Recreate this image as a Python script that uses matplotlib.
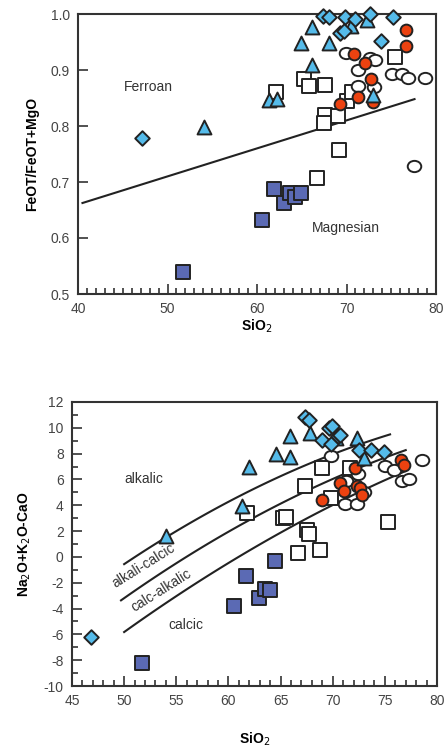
import numpy as np
import matplotlib
matplotlib.use("Agg")
import matplotlib.pyplot as plt
from matplotlib.path import Path
from matplotlib.markers import MarkerStyle
from matplotlib.ticker import MultipleLocator

plt.rcParams['font.family'] = ['Liberation Sans', 'DejaVu Sans']
plt.rcParams['axes.unicode_minus'] = False

# ---------------- Top plot data: SiO2 vs FeOT/(FeOT+MgO) ----------------
top_diamond_x = [47.1, 67.4, 68.0, 69.8, 70.9, 72.6, 75.2, 69.3, 69.7, 73.9]
top_diamond_y = [0.779, 0.996, 0.994, 0.995, 0.991, 1.000, 0.994, 0.966, 0.970, 0.951]

top_triangle_x = [54.1, 61.3, 62.2, 64.9, 66.1, 66.1, 68.1, 70.5, 72.3, 73.0]
top_triangle_y = [0.799, 0.846, 0.848, 0.948, 0.909, 0.976, 0.948, 0.979, 0.990, 0.855]

top_opensq_x = [62.1, 65.25, 65.8, 67.55, 67.6, 67.5, 69.0, 69.2, 66.7, 70.0, 70.6, 75.4]
top_opensq_y = [0.861, 0.884, 0.872, 0.873, 0.820, 0.806, 0.817, 0.758, 0.708, 0.845, 0.861, 0.924]

top_darksq_x = [51.7, 60.6, 61.9, 63.0, 63.7, 64.2, 64.9]
top_darksq_y = [0.540, 0.633, 0.687, 0.663, 0.681, 0.673, 0.680]

top_opencirc_x = [69.9, 71.3, 72.6, 73.2, 71.3, 73.1, 75.1, 76.2, 76.9, 78.8, 77.5]
top_opencirc_y = [0.930, 0.900, 0.921, 0.918, 0.871, 0.870, 0.893, 0.893, 0.885, 0.885, 0.729]

top_redcirc_x = [76.65, 76.65, 70.84, 72.07, 72.7, 71.25, 69.27, 73.0]
top_redcirc_y = [0.971, 0.943, 0.928, 0.912, 0.884, 0.851, 0.839, 0.843]

ferroan_line_x = [40.5, 77.6]
ferroan_line_y = [0.6625, 0.848]

# ---------------- Bottom plot data: SiO2 vs Na2O+K2O-CaO ----------------
bot_diamond_x = [46.8, 67.3, 67.7, 69.6, 69.9, 69.0, 69.8, 70.5, 70.7, 72.5, 73.7, 74.9]
bot_diamond_y = [-6.23, 10.84, 10.57, 9.98, 10.16, 9.08, 8.77, 9.33, 9.46, 8.25, 8.30, 8.10]

bot_triangle_x = [54.0, 61.3, 62.0, 64.6, 65.9, 65.9, 67.85, 70.3, 72.3, 73.0]
bot_triangle_y = [1.63, 3.96, 6.96, 7.99, 7.74, 9.33, 9.60, 9.20, 9.20, 7.66]

bot_opensq_x = [61.8, 65.2, 65.55, 67.3, 67.5, 67.7, 66.7, 68.8, 69.0, 69.8, 71.7, 75.3]
bot_opensq_y = [3.39, 3.05, 3.13, 5.46, 2.10, 1.80, 0.34, 0.50, 6.88, 4.55, 6.85, 2.67]

bot_darksq_x = [51.7, 60.5, 61.7, 62.9, 63.5, 64.0, 64.5]
bot_darksq_y = [-8.19, -3.80, -1.47, -3.20, -2.50, -2.60, -0.28]

bot_opencirc_x = [69.8, 71.2, 72.3, 75.0, 75.9, 76.6, 77.3, 78.6, 71.3, 72.4, 73.0]
bot_opencirc_y = [7.84, 4.12, 4.12, 7.06, 6.75, 5.85, 6.03, 7.53, 5.90, 6.40, 5.00]

bot_redcirc_x = [72.16, 70.73, 71.04, 72.33, 72.64, 72.8, 68.97, 76.5, 76.8]
bot_redcirc_y = [6.88, 5.72, 5.07, 5.46, 5.33, 4.81, 4.43, 7.50, 7.14]

# MALI boundary curves (quadratic coefficients, Frost et al. 2001)
mali_coeffs = [(-41.86, 1.112, -0.00572), (-44.72, 1.094, -0.00527), (-45.36, 1.0043, -0.00427)]
mali_ranges = [(50.0, 75.5), (49.7, 77.0), (50.0, 77.0)]

# ---------------- styling ----------------
LBLUE = '#55BBEA'
DBLUE = '#5B6AB4'
RED = '#EC4210'
EDGE = '#222222'
TICKC = '#444444'

ell = Path.unit_circle().transformed(matplotlib.transforms.Affine2D().scale(1.2, 1.0))
ELLIPSE = MarkerStyle(ell)


def draw_points(ax, d, t, osq, dsq, oc, rc):
    kw = dict(edgecolors=EDGE, linewidths=1.4, zorder=3, clip_on=False)
    ax.scatter(*osq, marker='s', s=88, facecolors='white', **kw)
    ax.scatter(*dsq, marker='s', s=95, facecolors=DBLUE, **kw)
    ax.scatter(*oc, marker=ELLIPSE, s=95, facecolors='white', **kw)
    ax.scatter(*rc, marker='o', s=72, facecolors=RED, **kw)
    ax.scatter(*t, marker='^', s=100, facecolors=LBLUE, **kw)
    ax.scatter(*d, marker='D', s=55, facecolors=LBLUE, **kw)


def style_axes(ax):
    for sp in ax.spines.values():
        sp.set_linewidth(1.5)
        sp.set_color('#333333')
    ax.tick_params(which='both', direction='in', colors='#333333', labelcolor=TICKC,
                   labelsize=10, pad=6, top=False, right=False, width=1.2)
    ax.tick_params(which='major', length=7)
    ax.tick_params(which='minor', length=4)


fig = plt.figure(figsize=(4.44, 7.47), dpi=100)

# Top plot
ax1 = fig.add_axes([78 / 444, 1 - 294 / 747, 358 / 444, 280 / 747])
ax1.plot(ferroan_line_x, ferroan_line_y, color='#222222', lw=1.5, zorder=2)
draw_points(ax1, (top_diamond_x, top_diamond_y), (top_triangle_x, top_triangle_y),
            (top_opensq_x, top_opensq_y), (top_darksq_x, top_darksq_y),
            (top_opencirc_x, top_opencirc_y), (top_redcirc_x, top_redcirc_y))
ax1.set_xlim(40, 80)
ax1.set_ylim(0.5, 1.0)
ax1.xaxis.set_major_locator(MultipleLocator(10))
ax1.xaxis.set_minor_locator(MultipleLocator(1))
ax1.yaxis.set_major_locator(MultipleLocator(0.1))
ax1.set_yticks(ax1.get_yticks())
ax1.set_yticklabels([f'{v:.1f}' for v in ax1.get_yticks()])
ax1.set_ylim(0.5, 1.0)
style_axes(ax1)
ax1.set_xlabel('SiO$_2$', fontsize=10, fontweight='bold', labelpad=1)
ax1.set_ylabel('FeOT/FeOT+MgO', fontsize=10, fontweight='bold', labelpad=8)
ax1.text(45.1, 0.870, 'Ferroan', fontsize=10, color='#333333', va='center')
ax1.text(66.1, 0.617, 'Magnesian', fontsize=10, color='#333333', va='center')

# Bottom plot
ax2 = fig.add_axes([72 / 444, 1 - 686 / 747, 365 / 444, 284 / 747])
for (a, b, c), (x0, x1) in zip(mali_coeffs, mali_ranges):
    xs = np.linspace(x0, x1, 100)
    ax2.plot(xs, a + b * xs + c * xs ** 2, color='#222222', lw=1.5, zorder=2)
draw_points(ax2, (bot_diamond_x, bot_diamond_y), (bot_triangle_x, bot_triangle_y),
            (bot_opensq_x, bot_opensq_y), (bot_darksq_x, bot_darksq_y),
            (bot_opencirc_x, bot_opencirc_y), (bot_redcirc_x, bot_redcirc_y))
ax2.set_xlim(45, 80)
ax2.set_ylim(-10, 12)
ax2.xaxis.set_major_locator(MultipleLocator(5))
ax2.xaxis.set_minor_locator(MultipleLocator(1))
ax2.yaxis.set_major_locator(MultipleLocator(2))
ax2.yaxis.set_minor_locator(MultipleLocator(1))
style_axes(ax2)
ax2.set_xlabel('SiO$_2$', fontsize=10, fontweight='bold', labelpad=16)
ax2.set_ylabel('Na$_2$O+K$_2$O-CaO', fontsize=10, fontweight='bold', labelpad=8)
ax2.text(50.0, 6.0, 'alkalic', fontsize=10, color='#333333', va='center')
ax2.text(54.2, -5.3, 'calcic', fontsize=10, color='#333333', va='center')
ax2.text(51.9, -0.7, 'alkali-calcic', fontsize=10, color='#333333', va='center',
         ha='center', rotation=32)
ax2.text(53.6, -2.6, 'calc-alkalic', fontsize=10, color='#333333', va='center',
         ha='center', rotation=32)

fig.savefig('out.png', dpi=100)
